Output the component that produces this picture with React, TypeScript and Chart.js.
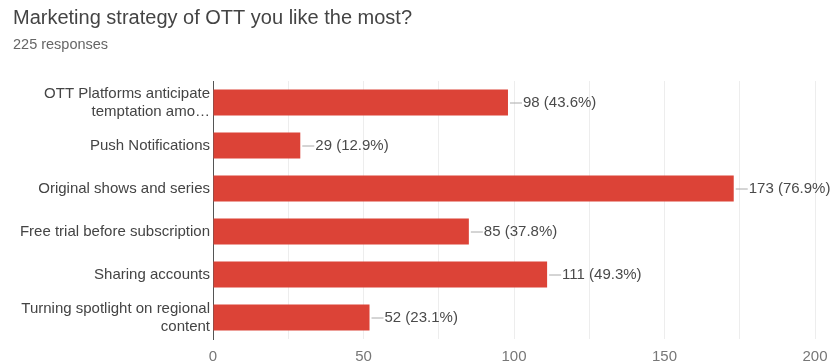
import React, { useEffect, useRef } from "react";
import { Chart, registerables } from "chart.js";

Chart.register(...registerables);

const titleText = "Marketing strategy of OTT you like the most?";
const subtitleText = "225 responses";
const categories: (string | string[])[] = [
  ["OTT Platforms anticipate", "temptation amo…"],
  "Push Notifications",
  "Original shows and series",
  "Free trial before subscription",
  "Sharing accounts",
  ["Turning spotlight on regional", "content"],
];
const counts = [98, 29, 173, 85, 111, 52];
const percents = ["43.6%", "12.9%", "76.9%", "37.8%", "49.3%", "23.1%"];
const xMin = 0;
const xMax = 200;
const xStep = 25;
const xLabelStep = 50;

const FONT = "'Liberation Sans', Arial, sans-serif";

const headerPlugin = {
  id: "header",
  afterDraw(chart: any) {
    const ctx = chart.ctx;
    ctx.save();
    ctx.textBaseline = "middle";
    ctx.textAlign = "left";
    ctx.fillStyle = "#444";
    ctx.font = `20px ${FONT}`;
    ctx.fillText(titleText, 13, 18);
    ctx.fillStyle = "#666";
    ctx.font = `14.5px ${FONT}`;
    ctx.fillText(subtitleText, 13, 45);
    ctx.restore();
  },
};

const valueLabelPlugin = {
  id: "valueLabels",
  afterDatasetsDraw(chart: any) {
    const ctx = chart.ctx;
    const meta = chart.getDatasetMeta(0);
    ctx.save();
    ctx.font = `15px ${FONT}`;
    ctx.textBaseline = "middle";
    ctx.textAlign = "left";
    meta.data.forEach((bar: any, i: number) => {
      const x = bar.x;
      const y = bar.y;
      ctx.strokeStyle = "#aaa";
      ctx.lineWidth = 1;
      ctx.beginPath();
      ctx.moveTo(x + 2, y + 0.5);
      ctx.lineTo(x + 14, y + 0.5);
      ctx.stroke();
      ctx.fillStyle = "#4a4a4a";
      ctx.fillText(`${counts[i]} (${percents[i]})`, x + 15, y);
    });
    ctx.restore();
  },
};

export default function App() {
  const ref = useRef<HTMLCanvasElement>(null);
  useEffect(() => {
    document.body.style.margin = "0";
    const chart = new Chart(ref.current!, {
      type: "bar",
      data: {
        labels: categories,
        datasets: [
          {
            data: counts,
            backgroundColor: "#dc4337",
            borderWidth: 0,
            barPercentage: 1,
            categoryPercentage: 0.61,
          },
        ],
      },
      options: {
        indexAxis: "y",
        animation: false,
        responsive: false,
        maintainAspectRatio: false,
        layout: { padding: { top: 81, right: 17, bottom: 0, left: 0 } },
        plugins: {
          legend: { display: false },
          tooltip: { enabled: false },
          title: { display: false },
        },
        scales: {
          x: {
            min: xMin,
            max: xMax,
            ticks: {
              stepSize: xStep,
              autoSkip: false,
              maxRotation: 0,
              color: "#777",
              font: { size: 15, family: FONT },
              padding: 9,
              callback: (v: any) => (Number(v) % xLabelStep === 0 ? String(v) : ""),
            },
            grid: {
              color: "#ededed",
              drawTicks: false,
            },
            border: { display: false },
            afterFit: (s: any) => {
              s.height = 24;
              s.paddingLeft = 0;
              s.paddingRight = 0;
            },
          },
          y: {
            ticks: {
              color: "#444",
              font: { size: 15, family: FONT, lineHeight: 1.2 },
              padding: 3,
              autoSkip: false,
            },
            grid: { display: false, drawTicks: false },
            border: { display: true, color: "#555", width: 1 },
            afterFit: (s: any) => {
              s.width = 213;
            },
          },
        },
      },
      plugins: [headerPlugin, valueLabelPlugin],
    });
    return () => chart.destroy();
  }, []);
  return (
    <div style={{ position: "relative", width: 832, height: 363 }}>
      <canvas ref={ref} width={832} height={363} style={{ display: "block" }} />
    </div>
  );
}
